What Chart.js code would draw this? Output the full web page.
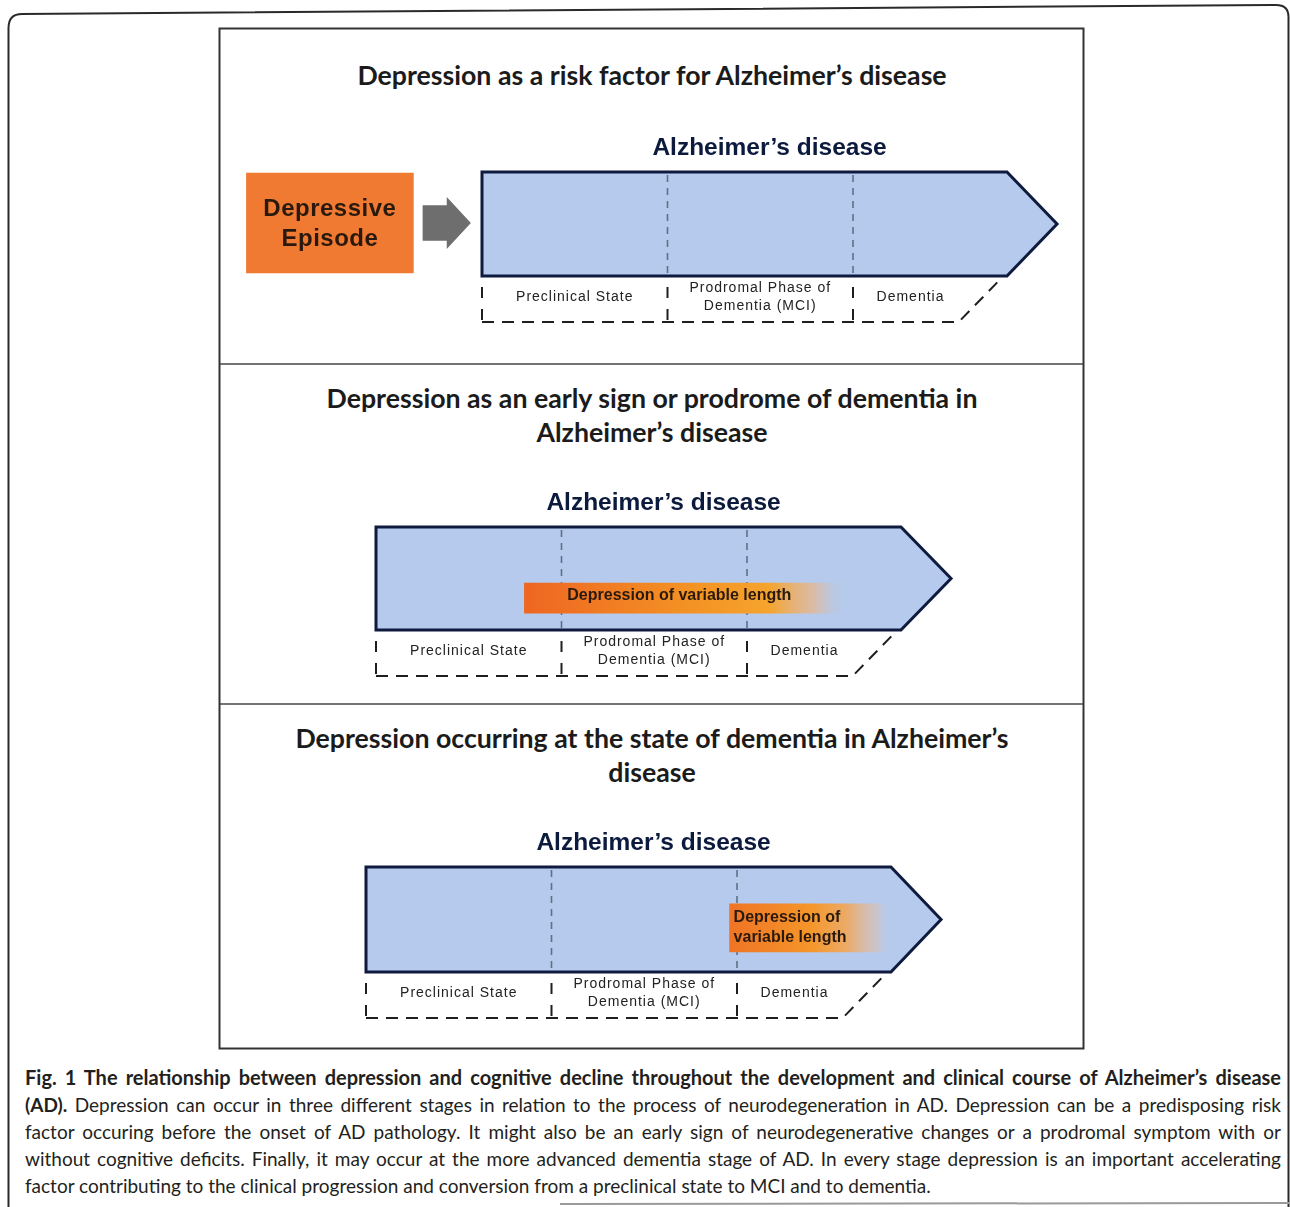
<!DOCTYPE html>
<html>
<head>
<meta charset="utf-8">
<script src="https://cdn.jsdelivr.net/npm/chart.js@4.4.1/dist/chart.umd.min.js"></script>
<style>
  html, body { margin: 0; padding: 0; background: #fff; }
  body { width: 1290px; height: 1207px; position: relative; overflow: hidden; font-family: Lato, "Open Sans", sans-serif; }
  canvas { position: absolute; left: 221px; }
  .ptitle { position: absolute; left: 221px; width: 862px; text-align: center; font-weight: bold; color: #1b1b1b; line-height: 34px; }
  .cap { position: absolute; left: 25px; width: 1256px; color: #231f20; line-height: 27px; }
  .cap div { text-align: justify; text-align-last: justify; height: 27px; overflow: visible; }
  .cap div.last { text-align-last: left; }
  #measure { position: absolute; visibility: hidden; white-space: nowrap; left: 0; top: 0; }
</style>
</head>
<body>
<svg width="1290" height="1207" style="position:absolute;left:0;top:0">
  <path d="M8.5,1207 L8.5,28 Q8.5,14 22,14 L1276,5 Q1288.5,5 1288.5,17 L1288.5,1207" fill="none" stroke="#2a2a2a" stroke-width="2"/>
  <line x1="560" y1="1204" x2="1290" y2="1203" stroke="#9a9a9a" stroke-width="2"/>
  <rect x="219.5" y="28.5" width="864" height="1020" fill="none" stroke="#333" stroke-width="2"/>
  <line x1="220" y1="364" x2="1083" y2="364" stroke="#444" stroke-width="1.6"/>
  <line x1="220" y1="704" x2="1083" y2="704" stroke="#444" stroke-width="1.6"/>
</svg>

<div class="ptitle" id="t1" style="top:58px">Depression as a risk factor for Alzheimer’s disease</div>
<div class="ptitle" id="t2" style="top:381px">Depression as an early sign or prodrome of dementia in<br>Alzheimer’s disease</div>
<div class="ptitle" id="t3" style="top:721px">Depression occurring at the state of dementia in Alzheimer’s<br>disease</div>

<canvas id="c1"></canvas>
<canvas id="c2"></canvas>
<canvas id="c3"></canvas>

<div class="cap" id="cap" style="top:1064px">
  <div id="l1" style="font-weight:bold">Fig. 1 The relationship between depression and cognitive decline throughout the development and clinical course of Alzheimer’s disease</div>
  <div id="l2"><b>(AD).</b> Depression can occur in three different stages in relation to the process of neurodegeneration in AD. Depression can be a predisposing risk</div>
  <div id="l3">factor occuring before the onset of AD pathology. It might also be an early sign of neurodegenerative changes or a prodromal symptom with or</div>
  <div id="l4">without cognitive deficits. Finally, it may occur at the more advanced dementia stage of AD. In every stage depression is an important accelerating</div>
  <div id="l5" class="last">factor contributing to the clinical progression and conversion from a preclinical state to MCI and to dementia.</div>
</div>
<span id="measure"></span>

<script>
// stages of the disease course, in stage units along the arrow
const stageNames = ['Preclinical State', 'Prodromal Phase of\nDementia (MCI)', 'Dementia'];
const stageStart = [0, 1, 2];
const stageEnd = [1, 2, 2.83];
const arrowTip = 3.1;
const labelBoxEnd = 2.57;
const labelBoxTop = 2.79;

// where depression sits in each panel
const depressionLabels = ['Depressive\nEpisode', 'Depression of variable length', 'Depression of\nvariable length'];
const depressionStart = [-1.27, 0.8, 1.96];
const depressionEnd = [-0.37, 2.54, 2.84];
const episodeArrow = [-0.32, -0.06];

const heading = 'Alzheimer’s disease';

// layout of the three panels (page pixels)
const unit = 185.5;
const panels = [
  { id: 'c1', bodyLeft: 482, bodyTop: 172, bodyH: 104, row: 0.49, thick: 100 },
  { id: 'c2', bodyLeft: 376, bodyTop: 527, bodyH: 103, row: 0.69, thick: 30 },
  { id: 'c3', bodyLeft: 366, bodyTop: 867, bodyH: 105, row: 0.58, thick: 48 }
];
const padTop = 45, padBottom = 62, canvasW = 861;

const blue = '#b5caec';
const navy = '#0e1a3e';

function depFill(chart, i) {
  if (i === 0) return '#f07a32';
  if (!chart.chartArea) return '#f2902a';
  const xs = chart.scales.x;
  const g = chart.ctx.createLinearGradient(xs.getPixelForValue(depressionStart[i]), 0, xs.getPixelForValue(depressionEnd[i]), 0);
  if (i === 1) {
    g.addColorStop(0, '#ee6622');
    g.addColorStop(0.5, '#f39124');
    g.addColorStop(0.76, '#f5a42e');
    g.addColorStop(0.9, 'rgba(232,182,140,0.7)');
    g.addColorStop(1, 'rgba(181,202,236,0)');
  } else {
    g.addColorStop(0, '#ef7424');
    g.addColorStop(0.5, '#f5962a');
    g.addColorStop(0.72, 'rgba(245,165,80,0.85)');
    g.addColorStop(0.9, 'rgba(225,190,170,0.5)');
    g.addColorStop(1, 'rgba(181,202,236,0)');
  }
  return g;
}

function drawLines(ctx, text, x, y, lh, align) {
  const parts = text.split('\n');
  ctx.textAlign = align;
  parts.forEach((p, k) => ctx.fillText(p, x, y + (k - (parts.length - 1) / 2) * lh));
}

function makePlugin(i) {
  return {
    id: 'adArrow' + i,
    beforeDatasetsDraw(chart) {
      const ctx = chart.ctx, xs = chart.scales.x, ys = chart.scales.y;
      const px = v => xs.getPixelForValue(v), py = v => ys.getPixelForValue(v);
      const x0 = px(0), xs2 = px(stageEnd[2]), xt = px(arrowTip);
      const yt = py(0), yb = py(1), ym = py(0.5);
      ctx.save();
      ctx.beginPath();
      ctx.moveTo(x0, yt); ctx.lineTo(xs2, yt); ctx.lineTo(xt, ym);
      ctx.lineTo(xs2, yb); ctx.lineTo(x0, yb); ctx.closePath();
      ctx.fillStyle = blue; ctx.fill();
      ctx.lineWidth = 3; ctx.strokeStyle = navy; ctx.lineJoin = 'miter'; ctx.stroke();
      // stage dividers inside the arrow
      ctx.setLineDash([7, 6]); ctx.lineWidth = 1.6; ctx.strokeStyle = '#5f6f86';
      for (let s = 1; s < stageStart.length; s++) {
        ctx.beginPath(); ctx.moveTo(px(stageStart[s]), yt + 3); ctx.lineTo(px(stageStart[s]), yb - 2); ctx.stroke();
      }
      ctx.setLineDash([]);
      if (i === 0) {
        // grey arrow from the episode to the disease
        const a = px(episodeArrow[0]), b = px(episodeArrow[1]), h = px(-0.19);
        ctx.beginPath();
        ctx.moveTo(a, py(0.32)); ctx.lineTo(h, py(0.32)); ctx.lineTo(h, py(0.24)); ctx.lineTo(b, py(0.49));
        ctx.lineTo(h, py(0.74)); ctx.lineTo(h, py(0.66)); ctx.lineTo(a, py(0.66)); ctx.closePath();
        ctx.fillStyle = '#6e6e6e'; ctx.fill();
      }
      ctx.restore();
    },
    afterDatasetsDraw(chart) {
      const ctx = chart.ctx, xs = chart.scales.x, ys = chart.scales.y;
      const px = v => xs.getPixelForValue(v), py = v => ys.getPixelForValue(v);
      const yt = py(0), yb = py(1);
      ctx.save();
      // depression label
      const el = chart.getDatasetMeta(0).data[0];
      ctx.fillStyle = '#2a1a0e';
      ctx.textBaseline = 'middle';
      if (i === 0) {
        ctx.font = 'bold 24px "Liberation Sans", Arial, sans-serif';
        ctx.letterSpacing = '0.5px';
        drawLines(ctx, depressionLabels[0], (el.x + el.base) / 2, el.y + 1, 30, 'center');
      } else if (i === 1) {
        ctx.font = 'bold 16px "Liberation Sans", Arial, sans-serif';
        ctx.letterSpacing = '0px';
        drawLines(ctx, depressionLabels[1], el.base + (el.x - el.base) * 0.48, el.y - 2, 20, 'center');
      } else {
        ctx.font = 'bold 16px "Liberation Sans", Arial, sans-serif';
        ctx.letterSpacing = '0px';
        drawLines(ctx, depressionLabels[2], el.base + 4, el.y, 20, 'left');
      }
      // heading above the arrow
      ctx.letterSpacing = '0px';
      ctx.fillStyle = '#0b1a3d';
      ctx.font = 'bold 24.5px "Liberation Sans", Arial, sans-serif';
      ctx.textAlign = 'center';
      ctx.fillText(heading, px(arrowTip / 2), yt - 24);
      // dashed box with stage names under the arrow
      ctx.strokeStyle = '#1e1e1e'; ctx.lineWidth = 2;
      ctx.setLineDash([11, 11]);
      for (let s = 0; s < stageStart.length; s++) {
        ctx.beginPath(); ctx.moveTo(px(stageStart[s]), yb + 11); ctx.lineTo(px(stageStart[s]), yb + 47); ctx.stroke();
      }
      ctx.setLineDash([12, 8]);
      ctx.beginPath();
      ctx.moveTo(px(0), yb + 46); ctx.lineTo(px(labelBoxEnd), yb + 46); ctx.lineTo(px(labelBoxTop), yb + 4);
      ctx.stroke();
      ctx.setLineDash([]);
      ctx.fillStyle = '#222';
      ctx.font = '14px "Liberation Sans", Arial, sans-serif';
      ctx.letterSpacing = '1px';
      stageNames.forEach((name, s) => {
        const right = s === stageNames.length - 1 ? labelBoxEnd + 0.05 : stageEnd[s];
        drawLines(ctx, name, px((stageStart[s] + right) / 2), yb + 21, 18, 'center');
      });
      ctx.restore();
    }
  };
}

panels.forEach((p, i) => {
  const cv = document.getElementById(p.id);
  cv.width = canvasW;
  cv.height = padTop + p.bodyH + padBottom;
  cv.style.top = (p.bodyTop - padTop) + 'px';
  const min = -(p.bodyLeft - 221) / unit;
  new Chart(cv, {
    type: 'bar',
    data: {
      datasets: [{
        label: depressionLabels[i],
        data: [{ x: [depressionStart[i], depressionEnd[i]], y: p.row }],
        backgroundColor: c => depFill(c.chart, i),
        borderWidth: 0,
        barThickness: p.thick,
        grouped: false
      }]
    },
    options: {
      responsive: false,
      animation: false,
      indexAxis: 'y',
      layout: { padding: { top: padTop, bottom: padBottom, left: 0, right: 0 } },
      scales: {
        x: { type: 'linear', min: min, max: min + canvasW / unit, offset: false, display: false },
        y: { type: 'linear', min: 0, max: 1, reverse: true, offset: false, display: false }
      },
      plugins: { legend: { display: false }, tooltip: { enabled: false } }
    },
    plugins: [makePlugin(i)]
  });
});

// size the html text to the widths in the figure
const meas = document.getElementById('measure');
function natural(el, size, weight) {
  meas.style.fontSize = size + 'px';
  meas.style.fontWeight = weight;
  meas.innerHTML = el.innerHTML.split('<br>')[0];
  return meas.offsetWidth;
}
const t1 = document.getElementById('t1');
const tSize = 22 * 589 / natural(t1, 22, 'bold');
['t1', 't2', 't3'].forEach(id => document.getElementById(id).style.fontSize = tSize + 'px');

const l1 = document.getElementById('l1');
const capBold = Math.min(20, 19 * 1235 / natural(l1, 19, 'bold'));
l1.style.fontSize = capBold + 'px';
let capSize = 19;
['l2', 'l3', 'l4'].forEach(id => {
  const w = natural(document.getElementById(id), 19, 'normal');
  capSize = Math.min(capSize, 19 * 1245 / w);
});
['l2', 'l3', 'l4', 'l5'].forEach(id => document.getElementById(id).style.fontSize = capSize + 'px');
</script>
</body>
</html>
